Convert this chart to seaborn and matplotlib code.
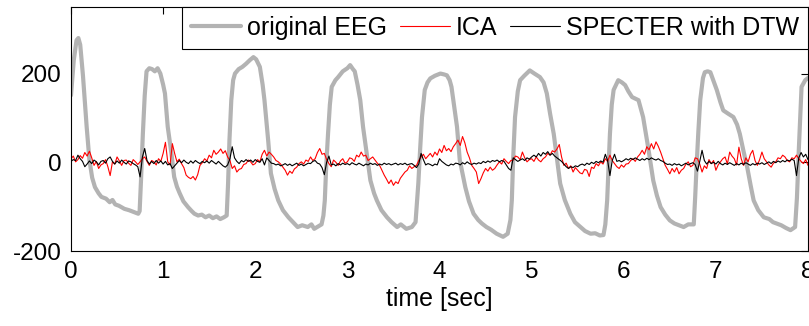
import numpy as np
import pandas as pd
import matplotlib
matplotlib.use('Agg')
import matplotlib.pyplot as plt
import seaborn as sns

# original EEG (gray) at uneven time steps
eeg_time = [0.00, 0.03, 0.06, 0.08, 0.10, 0.13, 0.17, 0.20, 0.23, 0.26, 0.30, 0.33, 0.38, 0.42, 0.45, 0.48,
            0.52, 0.58, 0.63, 0.68, 0.73, 0.745, 0.76, 0.78, 0.80, 0.82, 0.85, 0.88, 0.91, 0.94, 0.97,
            1.00, 1.02, 1.05, 1.09, 1.12, 1.15, 1.18, 1.22, 1.27, 1.31, 1.34, 1.38, 1.42, 1.46, 1.50,
            1.54, 1.58, 1.62, 1.66, 1.69, 1.705, 1.72, 1.74, 1.76, 1.78, 1.82, 1.86, 1.90, 1.94, 1.98,
            2.01, 2.05, 2.08, 2.10, 2.14, 2.17, 2.21, 2.25, 2.30, 2.36, 2.41, 2.46, 2.51, 2.57, 2.61,
            2.64, 2.68, 2.72, 2.74, 2.755, 2.77, 2.79, 2.81, 2.83, 2.87, 2.90, 2.95, 3.00, 3.03, 3.06,
            3.08, 3.11, 3.14, 3.17, 3.21, 3.25, 3.29, 3.32, 3.37, 3.43, 3.48, 3.54, 3.58, 3.64, 3.70,
            3.74, 3.77, 3.79, 3.81, 3.84, 3.87, 3.90, 3.95, 4.01, 4.05, 4.08, 4.11, 4.13, 4.16, 4.19,
            4.22, 4.25, 4.28, 4.32, 4.37, 4.42, 4.46, 4.51, 4.56, 4.62, 4.66, 4.69, 4.74, 4.77, 4.785,
            4.80, 4.82, 4.85, 4.875, 4.92, 4.98, 5.03, 5.09, 5.13, 5.165, 5.20, 5.24, 5.28, 5.31, 5.36,
            5.42, 5.47, 5.53, 5.58, 5.64, 5.69, 5.74, 5.78, 5.80, 5.82, 5.835, 5.85, 5.87, 5.89, 5.94,
            5.98, 6.015, 6.05, 6.09, 6.13, 6.16, 6.21, 6.27, 6.32, 6.36, 6.40, 6.45, 6.50, 6.55, 6.60,
            6.65, 6.70, 6.76, 6.775, 6.79, 6.81, 6.83, 6.86, 6.88, 6.91, 6.94, 6.98, 7.01, 7.05, 7.08,
            7.13, 7.19, 7.23, 7.26, 7.30, 7.34, 7.38, 7.41, 7.46, 7.52, 7.58, 7.62, 7.66, 7.71, 7.76,
            7.81, 7.86, 7.88, 7.90, 7.93, 7.97, 8.00]
eeg_val = [151, 230, 275, 280, 265, 195, 80, 5, -35, -56, -70, -78, -82, -90, -85, -95,
           -98, -105, -108, -112, -116, -110, -40, 64, 150, 205, 212, 210, 205, 212, 200,
           175, 155, 80, 20, -33, -55, -70, -88, -101, -110, -116, -120, -118, -124, -120,
           -126, -122, -128, -124, -120, -48, 50, 140, 185, 200, 210, 215, 222, 230, 237,
           232, 215, 175, 140, 50, -25, -60, -86, -108, -124, -135, -146, -142, -146, -140,
           -150, -145, -140, -120, -86, -10, 64, 130, 170, 185, 192, 205, 212, 219, 210,
           205, 175, 140, 80, 20, -41, -70, -86, -108, -124, -135, -146, -140, -150, -146,
           -135, -48, 30, 102, 163, 180, 189, 195, 200, 198, 196, 185, 170, 125, 80,
           5, -25, -56, -88, -116, -130, -138, -146, -152, -161, -165, -168, -161, -130, -86,
           10, 102, 160, 185, 195, 207, 200, 192, 180, 155, 110, 64, 0, -48, -85,
           -116, -135, -146, -155, -161, -160, -165, -164, -140, -86, -10, 64, 130, 163, 185,
           180, 174, 160, 147, 143, 140, 102, 27, -41, -75, -101, -118, -131, -138, -142,
           -146, -140, -140, -80, -11, 70, 140, 190, 203, 205, 203, 180, 163, 135, 117,
           110, 102, 85, 64, 25, -11, -55, -86, -108, -124, -128, -135, -138, -142, -148,
           -153, -146, -80, 27, 170, 185, 190]

# ICA and SPECTER, one value every 0.025 s from 0 to 8
sample_time = np.linspace(0, 8, 321)
ica_val = [8, 14, 1, 6, 15, 9, 22, 14, 25, 10, -7, 2, -14, -6, -3, 6, -10, -30, 1, -4,
           12, 3, -7, 4, 5, -2, -7, 6, 1, -5, 1, 8, 12, 2, -7, 4, 1, -6, 8, 2,
           20, 45, 1, -6, 42, 20, 1, 7, -3, -12, -29, -34, -37, -32, -40, -28, -7, -1, 8, 3,
           16, 10, 27, 18, 23, 30, 20, 26, 12, 4, -14, -8, -22, -16, -14, -5, -3, 5, 1, -6,
           -3, 6, 1, 18, 27, 14, 23, 18, 12, 4, 1, -4, -11, -18, -29, -20, -25, -15, -11, -3,
           1, -4, 5, 2, 12, 4, 8, 22, 31, 18, 20, 6, -3, -10, 5, 0, -7, 3, 8, -2,
           1, 10, 8, 2, 16, 12, 23, 14, 16, 4, 8, 12, 5, -2, -7, -18, -29, -38, -48, -40,
           -52, -44, -48, -36, -29, -22, -18, -8, -14, -10, -7, 4, 12, 18, 8, 14, 20, 12, 23, 16,
           30, 22, 38, 26, 31, 24, 35, 42, 50, 38, 58, 44, 23, 10, -7, -14, -22, -48, -37, -24,
           -14, -20, -11, -18, -14, -6, 1, -4, 8, 2, -3, 4, 5, 14, 12, 6, 23, 10, 1, 6,
           8, 2, 12, 5, 1, 8, 12, 20, 16, 26, 23, 30, 40, 12, -7, -2, -14, -8, -22, -12,
           -18, -24, -26, -16, -18, -32, -11, -14, -3, -8, 1, -4, 8, 2, 16, 4, -3, -10, -14, -6,
           -11, -4, -3, 4, 8, 2, 12, 18, 27, 18, 35, 28, 42, 30, 46, 36, 23, 8, -7, -16,
           -26, -14, -22, -12, -26, -18, -14, -4, 1, -10, -7, 10, 8, -4, -22, -8, -14, 6, -3, 4,
           -18, -6, 1, 8, 12, -4, 23, 14, 8, -6, 34, 8, -7, 10, 1, 18, 27, 4, -7, 6,
           23, 8, 1, -6, -11, -2, 1, 10, 8, 16, 12, 4, 1, 10, 8, 16, 8, 2, -3, 6,
           -7]
specter_val = [2, 6, 4, 16, 8, 2, -10, -4, 3, -3, 5, 1, -6, 2, 4, -2, 8, 12, 2, -4,
               3, -2, 5, 0, -4, 3, 1, -3, -6, -10, -33, 12, 31, 4, -4, 2, -3, 4, -2, 3,
               -4, 2, -6, -3, -14, -8, -2, 4, -1, 5, 0, -3, 3, -2, 4, 0, -3, 2, -1, 3,
               -2, 4, 0, -4, 2, -3, -8, -11, -6, 8, 35, 10, 2, -3, 4, 1, 6, 2, 5, 0,
               6, 2, 0, 8, -6, 10, 4, -2, -3, -6, -4, -8, -6, -3, -7, -4, -8, -5, -2, -7,
               -4, -8, -5, -2, -3, 2, 4, -2, -4, -12, -28, 0, 14, -6, -4, -8, -3, -6, -2, -5,
               -3, -6, -1, -4, -6, -2, -5, -8, -4, -6, -2, -5, -3, -7, -4, -6, -2, -5, -3, -6,
               -4, -2, -6, -3, -5, -2, -6, -4, -3, -7, -12, -4, 20, 6, -6, -3, -5, -8, -4, -6,
               8, 2, -2, -6, -8, -4, -6, -2, -3, -6, -1, -4, 1, -3, -5, -2, -4, -1, -3, 2,
               -1, 3, 0, 4, 2, 5, 1, 4, 2, -6, -14, -18, 10, 6, 2, 5, 8, 4, 10, 7,
               12, 16, 12, 20, 14, 22, 18, 24, 16, 20, 14, 10, 6, 2, -4, -10, -14, -10, -12, -8,
               -10, -6, -4, -7, -2, -5, 0, -3, 2, -1, 3, 0, 18, 4, -30, 4, 18, 2, 4, 1,
               4, 8, 5, 9, 6, 10, 7, 4, 8, 5, 9, 6, 10, 7, 5, 8, 4, 2, -2, -5,
               -4, -7, -3, -6, -4, -8, -5, -2, -6, -3, -1, -5, -20, 2, 27, 4, -4, 2, -3, 0,
               -4, 2, -3, -6, -2, -5, -1, -4, -7, -3, -6, -2, -5, -1, -4, -7, -3, -6, -2, -4,
               -1, -5, -2, 1, -3, 2, -1, 3, 0, 4, 1, 5, 3, 7, 4, -30, 10, 22, 12, 18,
               6]

series_labels = ['original EEG', 'ICA', 'SPECTER with DTW']

df_eeg = pd.DataFrame({'t': eeg_time, 'v': eeg_val})
df_ica = pd.DataFrame({'t': sample_time, 'v': ica_val})
df_spec = pd.DataFrame({'t': sample_time, 'v': specter_val})

sns.set_style('white')
plt.rcParams['font.family'] = ['Liberation Sans', 'DejaVu Sans']
plt.rcParams['axes.unicode_minus'] = False
plt.rcParams['text.color'] = 'black'
plt.rcParams['axes.labelcolor'] = 'black'

fig = plt.figure(figsize=(8.09, 3.26), dpi=100)
ax = fig.add_axes([71 / 809, 75 / 326, 737 / 809, 244 / 326])

sns.lineplot(data=df_eeg, x='t', y='v', ax=ax, color='#b3b3b3', linewidth=3.0,
             estimator=None, sort=False, label=series_labels[0])
sns.lineplot(data=df_ica, x='t', y='v', ax=ax, color='#ff0000', linewidth=0.8,
             estimator=None, sort=False, label=series_labels[1])
sns.lineplot(data=df_spec, x='t', y='v', ax=ax, color='black', linewidth=0.8,
             estimator=None, sort=False, label=series_labels[2])

ax.set_xlim(0, 8)
ax.set_ylim(-200, 350)
ax.set_xticks(range(0, 9))
ax.set_yticks([-200, 0, 200])
ax.tick_params(direction='in', length=5, width=0.8, labelsize=17.5, top=True, right=True,
               colors='black', labelcolor='black', pad=7)
for sp in ax.spines.values():
    sp.set_visible(True)
    sp.set_color('black')
    sp.set_linewidth(0.8)
ax.set_xlabel('time [sec]', fontsize=18, labelpad=3, color='black')
ax.set_ylabel('')

leg = ax.legend(loc='upper right', ncol=3, fontsize=18, frameon=True, fancybox=False,
                borderaxespad=0, handlelength=2.0, handletextpad=0.25, columnspacing=0.5,
                borderpad=0.35, labelcolor='black')
leg.get_frame().set_edgecolor('black')
leg.get_frame().set_linewidth(0.8)
leg.get_frame().set_alpha(1)

fig.savefig('out.png', dpi=100)
